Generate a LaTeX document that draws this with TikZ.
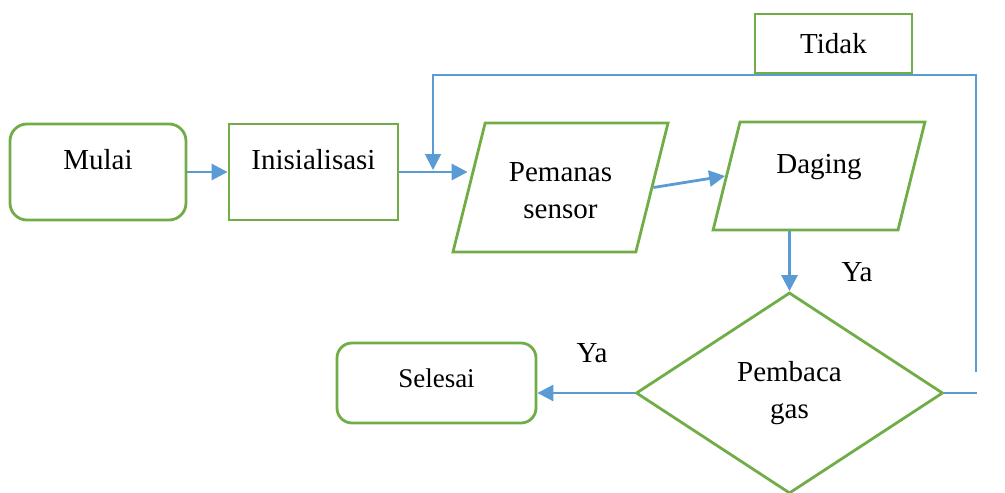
\documentclass[tikz,border=0pt]{standalone}
\usepackage{fontspec}
\setmainfont{Liberation Serif}
\usetikzlibrary{shapes.geometric,arrows.meta}
\definecolor{boxgreen}{RGB}{112,173,71}
\definecolor{linkblue}{RGB}{91,155,213}
\begin{document}
\begin{tikzpicture}[x=1pt, y=-1pt, node distance=215pt, font={\fontsize{29pt}{37pt}\selectfont}, terminal/.style={rectangle, rounded corners=17pt, draw=boxgreen, line width=2.8pt, minimum width=176pt, minimum height=96pt}, block/.style={rectangle, draw=boxgreen, line width=2.8pt, minimum width=169pt, minimum height=96pt}, io/.style={trapezium, trapezium left angle=76, trapezium right angle=104, draw=boxgreen, line width=2.8pt, inner sep=0pt, text depth=0pt}, decision/.style={diamond, draw=boxgreen, line width=2.8pt, inner sep=0pt, align=center, minimum width=307pt, minimum height=201pt}, flow/.style={draw=linkblue, line width=2.8pt, -{Triangle[length=16pt, width=16pt]}}, link/.style={draw=linkblue, line width=1.8pt}]
  \useasboundingbox (0,0) rectangle (1005,493);
  \node[terminal] at (98,172) (mulai) {};
  \node[above of=mulai, node distance=12pt] (mulaitext) {Mulai};
  \node[block, right of=mulai, node distance=215.5pt] (init) {};
  \node[above of=init, node distance=12pt] (inittext) {Inisialisasi};
  \node[io, right of=init, node distance=247pt, yshift=-15.5pt, text width=150.7pt, text height=129pt] (pemanas) {};
  \node[below of=pemanas, node distance=3pt, align=center] (pemanastext) {Pemanas\\sensor};
  \node[io, right of=pemanas, node distance=258.5pt, yshift=11.5pt, text width=158pt, text height=108pt] (daging) {};
  \node[above of=daging, node distance=9pt] (dagingtext) {Daging};
  \node[decision] at (789.5,393) (pembaca) {Pembaca\\gas};
  \node[terminal, rounded corners=15pt, minimum width=199pt, minimum height=80pt] at (436.5,383) (selesai) {};
  \node[above of=selesai, node distance=5pt, font={\fontsize{27pt}{34pt}\selectfont}] (selesaitext) {Selesai};
  \node[block, minimum width=157pt, minimum height=59pt] at (833.5,43.5) (tidak) {Tidak};

  \node at (857,272) (yadown) {Ya};
  \node at (592,353) (yaleft) {Ya};

  \coordinate (fbout) at (977,393);
  \coordinate (fbstart) at (976,372);
  \coordinate (fbtop) at (433,75);
  \coordinate (fbdrop) at (433,170);

  \draw[flow] (mulai) -- (init);
  \draw[flow] (init.east) -- (init.east -| pemanas.west);
  \draw[flow] (pemanas.east) -- (daging.west);
  \draw[flow] (pembaca.north |- daging.south) -- (pembaca.north);
  \draw[flow] (pembaca.west) -- (pembaca.west -| selesai.east);
  \draw[link] (pembaca.east) -- (fbout);
  \draw[link, -{Triangle[length=16pt, width=16pt]}] (fbstart) |- (fbtop) -- (fbdrop);
\end{tikzpicture}
\end{document}
